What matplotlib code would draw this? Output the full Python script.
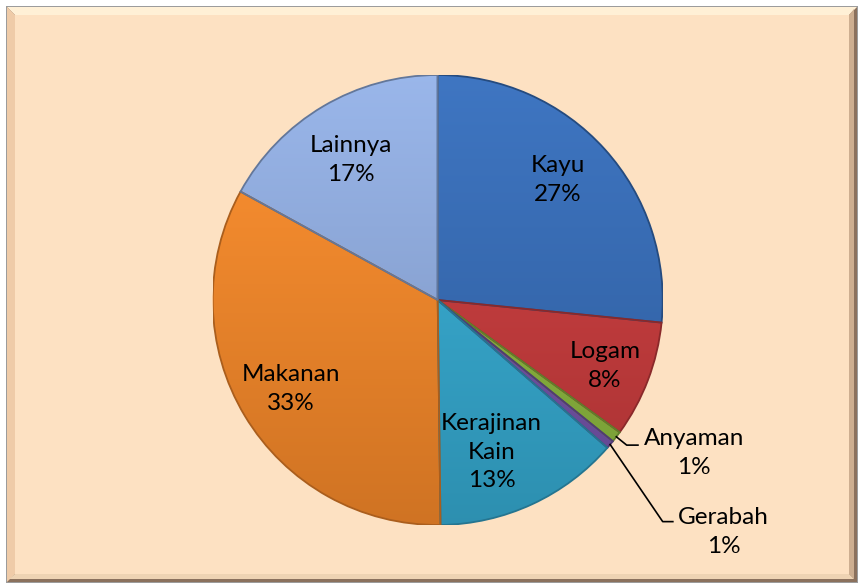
import numpy as np
import matplotlib.pyplot as plt
from matplotlib.patches import Polygon, PathPatch
from matplotlib.colors import to_rgb

categories = ["Kayu", "Logam", "Anyaman", "Gerabah", "Kerajinan\nKain", "Makanan", "Lainnya"]
shares = [26.6, 8.4, 0.8, 0.6, 13.4, 33.2, 17.0]
pct_labels = ["27%", "8%", "1%", "1%", "13%", "33%", "17%"]
colors = ["#3468b0", "#c0393a", "#86b03c", "#6f50a2", "#33a3c8", "#ec8328", "#8aa5d6"]

# label centres in pie units (radius = 1)
label_pos = [(0.535, 0.533), (0.744, -0.293), (1.14, -0.68), (1.27, -1.03),
             (0.24, -0.676), (-0.651, -0.396), (-0.385, 0.622)]

W, H = 859, 585
fig = plt.figure(figsize=(W / 100, H / 100), dpi=100)
fig.patch.set_facecolor("white")


def fpoly(pts, color, z):
    fig.patches.append(Polygon([(x / W, 1 - y / H) for x, y in pts], closed=True,
                               transform=fig.transFigure, facecolor=color,
                               edgecolor="none", zorder=z))


# bevelled frame (pixel coords, y down)
L, R, T, B, b = 7, 857, 7, 582, 8
fpoly([(L - 1, T - 1), (R + 1, T - 1), (R + 1, B + 1), (L - 1, B + 1)], "#9c9c9c", -10)
fpoly([(L, T), (R, T), (R, B), (L, B)], "#8b715d", -9)
fpoly([(L, T), (R, T), (R - b, T + b), (L + b, T + b)], "#fff0d6", -8)
fpoly([(L, T), (L + b, T + b), (L + b, B - b), (L, B)], "#efcba8", -8)
fpoly([(R - 3, T + 2), (R - 3, B - 3), (R - b, B - b), (R - b, T + b)], "#cdae90", -8)
fpoly([(L + 2, B - 3), (R - 3, B - 3), (R - b, B - b), (L + b, B - b)], "#eed3b3", -8)
fpoly([(L + b, T + b), (R - b, T + b), (R - b, B - b), (L + b, B - b)], "#fde1c2", -7)

cx, cy, r = 437.7, 300, 225
ax = fig.add_axes([(cx - r) / W, (H - cy - r) / H, 2 * r / W, 2 * r / H])

wedges, _ = ax.pie(shares, colors=colors, startangle=90, counterclock=False, radius=1,
                   wedgeprops=dict(edgecolor="none"))
ax.set_xlim(-1, 1)
ax.set_ylim(-1, 1)
ax.set_aspect("equal")
ax.axis("off")

# soft vertical shading inside each wedge
yy = np.linspace(1, 0, 256)[:, None]
for w, c in zip(wedges, colors):
    base = np.array(to_rgb(c))
    light = np.clip(base * 1.06 + 0.03, 0, 1)
    dark = base * 0.88
    grad = light[None, None, :] * yy[..., None] + dark[None, None, :] * (1 - yy[..., None])
    grad = np.repeat(grad, 4, axis=1)
    im = ax.imshow(grad, extent=(-1, 1, -1, 1), origin="upper", aspect="auto", zorder=2)
    im.set_clip_path(w)

# outlines of wedges
for w, c in zip(wedges, colors):
    edge = np.array(to_rgb(c)) * 0.72
    ax.add_patch(PathPatch(w.get_path(), fill=False, edgecolor=edge, lw=1.3,
                           zorder=3, transform=w.get_transform()))

font = dict(family=["Lato", "DejaVu Sans"], fontsize=17.5, color="black")
for (lx, ly), name, pct in zip(label_pos, categories, pct_labels):
    ax.text(lx, ly, f"{name}\n{pct}", ha="center", va="center", linespacing=1.45,
            zorder=5, clip_on=False, **font)

# leader lines for the two thin slices
angles = np.cumsum([0] + shares)
for i, (ex, ey, hx) in zip([2, 3], [(0.84, -0.645, 0.89), (1.0, -0.985, 1.045)]):
    mid = np.deg2rad(90 - 3.6 * (angles[i] + shares[i] / 2))
    sx, sy = np.cos(mid), np.sin(mid)
    ax.plot([sx, ex, hx], [sy, ey, ey], color="black", lw=1.2, clip_on=False, zorder=4)

fig.savefig("out.png", dpi=100, facecolor=fig.get_facecolor())
